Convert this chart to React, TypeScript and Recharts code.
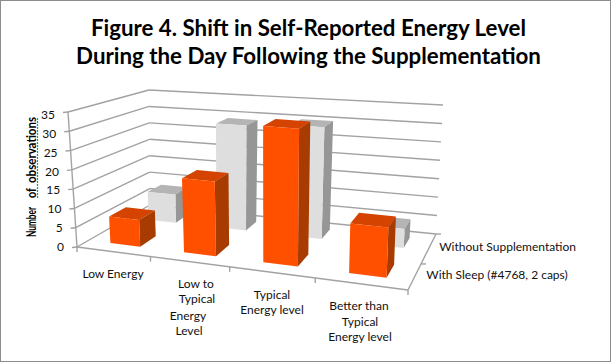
import { BarChart, Bar, XAxis, YAxis, Customized } from 'recharts';

const categories = ['Low Energy', 'Low to Typical Energy Level', 'Typical Energy level', 'Better than Typical Energy level'];
const withSleep = [7, 19, 34, 12];
const withoutSupplementation = [8, 29, 30, 5];
const valueTicks = [0, 5, 10, 15, 20, 25, 30, 35];
const seriesNames = ['With Sleep (#4768, 2 caps)', 'Without Supplementation'];

const rows = categories.map((name, i) => ({
  name,
  withSleep: withSleep[i],
  without: withoutSupplementation[i],
}));

// label lines under each category, placed by hand like the original
const labelLines = [
  [{ t: 'Low Energy', x: 113, y: 278 }],
  [
    { t: 'Low to', x: 196, y: 288 },
    { t: 'Typical', x: 197, y: 303 },
    { t: 'Energy', x: 188, y: 320 },
    { t: 'Level', x: 189, y: 335 },
  ],
  [
    { t: 'Typical', x: 272, y: 299 },
    { t: 'Energy level', x: 272, y: 314 },
  ],
  [
    { t: 'Better than', x: 359, y: 310 },
    { t: 'Typical', x: 360, y: 326 },
    { t: 'Energy level', x: 360, y: 341 },
  ],
];

const W = 611;
const H = 362;
const PLOT = { left: 100, top: 60, width: 400, height: 175 };
const BAR = PLOT.width / categories.length / 2.42;

// corners of the 3D box on the page
const floor = { fl: [77, 247], fr: [408, 290], bl: [150, 205], br: [436, 234] };
const roof = { fl: [68, 112], fr: [414, 139], bl: [149, 90], br: [443, 105] };

const warp = (t: number, k: number) => t / (t + k * (1 - t));

const mix = (a: number[], b: number[], t: number) => [a[0] + (b[0] - a[0]) * t, a[1] + (b[1] - a[1]) * t];

// u across categories, v front to back, w bottom to top (all 0..1)
function project(u: number, v: number, w: number) {
  const uu = warp(u, 1.168);
  const vv = warp(v, 1.15);
  const low = mix(mix(floor.fl, floor.fr, uu), mix(floor.bl, floor.br, uu), vv);
  const high = mix(mix(roof.fl, roof.fr, uu), mix(roof.bl, roof.br, uu), vv);
  return mix(low, high, w);
}

const pts = (list: number[][]) => list.map((p) => `${p[0].toFixed(1)},${p[1].toFixed(1)}`).join(' ');

const toU = (x: number) => (x - PLOT.left) / PLOT.width;
const toW = (y: number) => (PLOT.top + PLOT.height - y) / PLOT.height;

const makeBox = (v0: number, v1: number, front: string, top: string, side: string) => (props: any) => {
  const { x, y, width } = props;
  const u0 = toU(x) + 0.005;
  const u1 = toU(x + width) + 0.005;
  const w = toW(y);
  return (
    <g>
      <polygon points={pts([project(u0, v0, w), project(u1, v0, w), project(u1, v1, w), project(u0, v1, w)])} fill={top} />
      <polygon points={pts([project(u1, v0, 0), project(u1, v1, 0), project(u1, v1, w), project(u1, v0, w)])} fill={side} />
      <polygon points={pts([project(u0, v0, 0), project(u1, v0, 0), project(u1, v0, w), project(u0, v0, w)])} fill={front} />
    </g>
  );
};

const OrangeBox = makeBox(0.18, 0.43, '#FF5000', '#D44300', '#A83C00');
const GreyBox = makeBox(0.73, 0.9, '#DEDEDE', '#B4B4B4', '#969696');

const LINE = '#A2A2A2';

function Walls() {
  const seg = (a: number[], b: number[], key: string) => (
    <line key={key} x1={a[0]} y1={a[1]} x2={b[0]} y2={b[1]} stroke={LINE} strokeWidth={1.4} />
  );
  return (
    <g>
      {valueTicks.map((t) => {
        const w = t / 35;
        const p = project(0, 0, w);
        return (
          <g key={t}>
            {seg(p, project(0, 1, w), `l${t}`)}
            {seg(project(0, 1, w), project(1, 1, w), `b${t}`)}
            {seg(p, [p[0] - 5, p[1] + 0.5], `t${t}`)}
          </g>
        );
      })}
      {seg(project(0, 0, 0), project(0, 0, 1), 'axis')}
      {seg(project(0, 0, 0), project(1, 0, 0), 'front')}
      {seg(project(1, 0, 0), project(1, 1, 0), 'right')}
      {[0, 0.25, 0.5, 0.75, 1].map((u) => {
        const p = project(u, 0, 0);
        return seg(p, [p[0], p[1] + 5], `c${u}`);
      })}
      {[0.5, 1].map((v) => {
        const p = project(1, v, 0);
        return seg(p, [p[0] + 5, p[1]], `d${v}`);
      })}
      {seriesNames.map((name, i) => {
        const p = project(1, i === 0 ? 0.25 : 0.75, 0);
        return (
          <text key={name} x={p[0] + (i === 0 ? 12 : 11)} y={p[1] + 1.5} fontSize={12} fill="#111">
            {name}
          </text>
        );
      })}
      <g fontSize={12.5} fontWeight={700} fill="#000">
        <text transform="translate(36,237) rotate(-90)" textLength={30} lengthAdjust="spacingAndGlyphs">
          Number
        </text>
        <text transform="translate(36,198) rotate(-90)" textLength={10} lengthAdjust="spacingAndGlyphs">
          of
        </text>
        <text transform="translate(36,183) rotate(-90)" textLength={66} lengthAdjust="spacingAndGlyphs">
          observations
        </text>
      </g>
      <line x1={37.5} y1={198} x2={37.5} y2={117} stroke="#2E9A2E" strokeWidth={1.2} strokeDasharray="2 1" />
    </g>
  );
}

function ValueTick(props: any) {
  const { y, payload } = props;
  const w = toW(y);
  const p = project(0, 0, w);
  return (
    <text x={p[0] - 13} y={p[1] + 4 + 3 * w} textAnchor="end" fontSize={12} fill="#111">
      {payload.value}
    </text>
  );
}

function CategoryTick(props: any) {
  const { index } = props;
  return (
    <g>
      {labelLines[index].map((l) => (
        <text key={l.t} x={l.x} y={l.y} textAnchor="middle" fontSize={12} fill="#111">
          {l.t}
        </text>
      ))}
    </g>
  );
}

export default function App() {
  return (
    <div
      style={{
        position: 'absolute',
        left: 0,
        top: 0,
        width: W,
        height: H,
        boxSizing: 'border-box',
        border: '1px solid #8c8c8c',
        background: '#fff',
        fontFamily: 'Lato, sans-serif',
      }}
    >
      <div
        style={{
          position: 'absolute',
          top: 13,
          left: 2,
          width: W,
          textAlign: 'center',
          fontSize: 22.3,
          lineHeight: '28px',
          fontWeight: 700,
          color: '#000',
        }}
      >
        Figure 4. Shift in Self-Reported Energy Level
        <br />
        During the Day Following the Supplementation
      </div>
      <div style={{ position: 'absolute', left: -1, top: -1 }}>
        <BarChart
          width={W}
          height={H}
          data={rows}
          margin={{ top: PLOT.top, left: 0, right: W - PLOT.left - PLOT.width, bottom: 0 }}
          barCategoryGap={0}
          barSize={BAR}
          barGap={-BAR}
        >
          <Customized component={Walls} />
          <XAxis
            dataKey="name"
            interval={0}
            height={H - PLOT.top - PLOT.height}
            axisLine={false}
            tickLine={false}
            tick={<CategoryTick />}
          />
          <YAxis
            width={PLOT.left}
            domain={[0, 35]}
            ticks={valueTicks}
            axisLine={false}
            tickLine={false}
            tick={<ValueTick />}
          />
          <Bar dataKey="without" shape={GreyBox} isAnimationActive={false} />
          <Bar dataKey="withSleep" shape={OrangeBox} isAnimationActive={false} />
        </BarChart>
      </div>
    </div>
  );
}
